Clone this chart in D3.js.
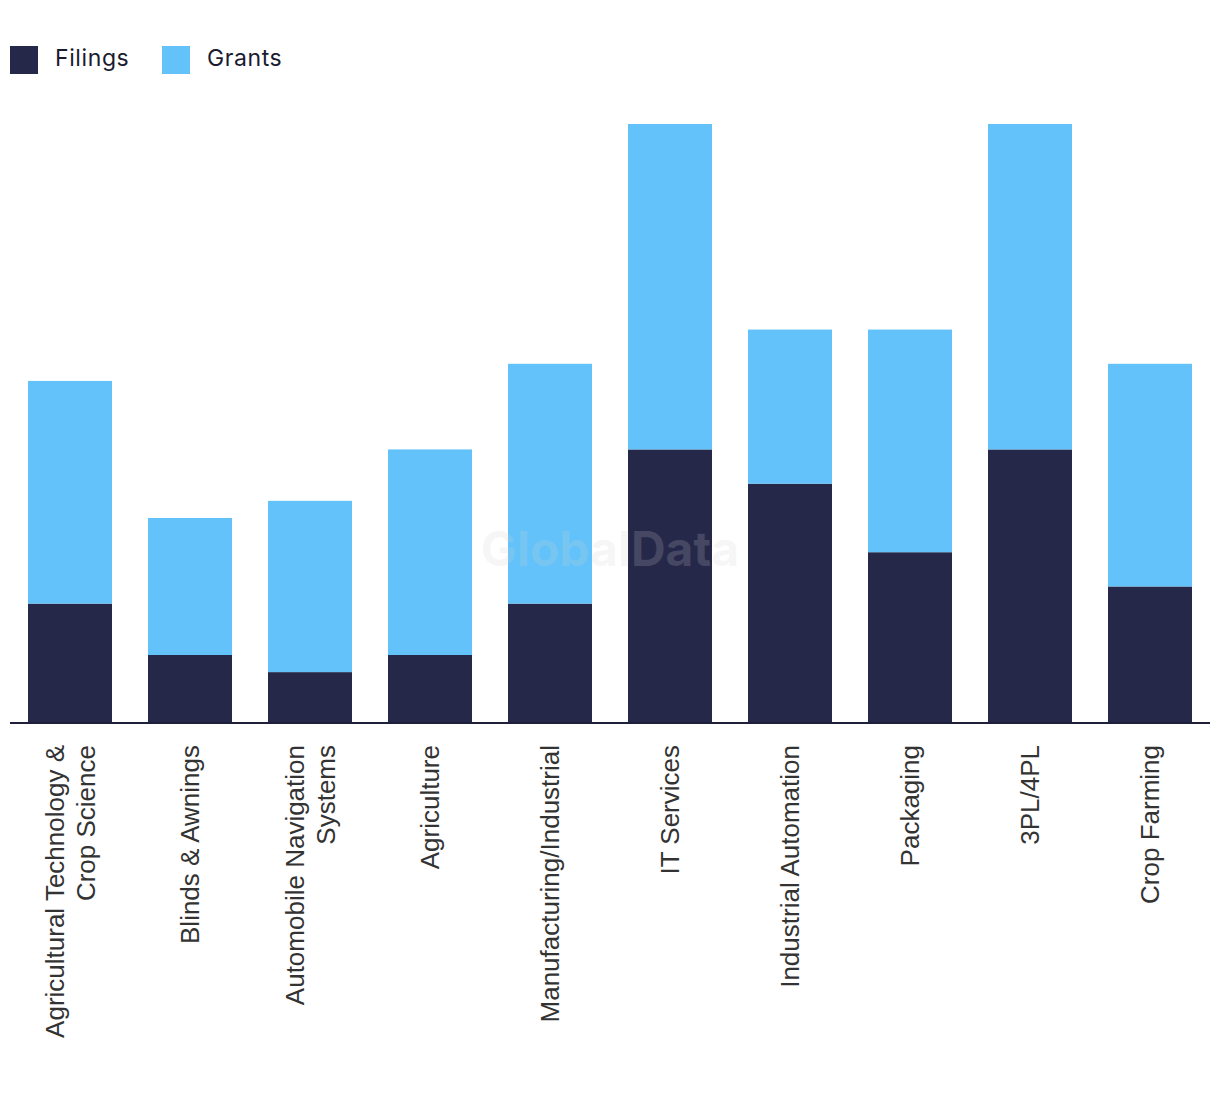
<!DOCTYPE html>
<html><head><meta charset="utf-8">
<script src="https://cdn.jsdelivr.net/npm/d3@7"></script>
<style>body{margin:0;background:#fff}svg{display:block}</style>
</head><body>
<script>
const categories = [
  ["Agricultural Technology &","Crop Science"],
  ["Blinds & Awnings"],
  ["Automobile Navigation","Systems"],
  ["Agriculture"],
  ["Manufacturing/Industrial"],
  ["IT Services"],
  ["Industrial Automation"],
  ["Packaging"],
  ["3PL/4PL"],
  ["Crop Farming"]
];
const filings = [7, 4, 3, 4, 7, 16, 14, 10, 16, 8];
const grants  = [13, 8, 10, 12, 14, 19, 9, 13, 19, 13];
const seriesNames = ["Filings", "Grants"];
const colors = ["#26284a", "#62c2f9"];

const W = 1220, H = 1094;
const svg = d3.select("body").append("svg").attr("width", W).attr("height", H);

const names = categories.map(c => c.join(" "));
const data = names.map((n, i) => ({name: n, Filings: filings[i], Grants: grants[i]}));
const stack = d3.stack().keys(seriesNames)(data);

const x = d3.scaleBand().domain(names).range([10, 1210]).paddingInner(0.3).paddingOuter(0.15);
const y = d3.scaleLinear().domain([0, 35]).range([723.5, 124]);

svg.append("g").selectAll("g").data(stack).join("g")
  .attr("fill", (d, i) => colors[i])
  .selectAll("rect").data(d => d).join("rect")
  .attr("x", d => x(d.data.name))
  .attr("width", x.bandwidth())
  .attr("y", d => y(d[1]))
  .attr("height", d => y(d[0]) - y(d[1]));

// watermark
svg.append("text").attr("x", 610).attr("y", 566).attr("text-anchor", "middle")
  .attr("font-family", "Inter, sans-serif").attr("font-weight", 700).attr("font-size", 48)
  .attr("fill", "rgba(210,210,210,0.2)").text("GlobalData");

// axis
const xAxis = svg.append("g").attr("transform", "translate(0,723)")
  .call(d3.axisBottom(x).tickSize(0).tickFormat(""));
xAxis.select(".domain").attr("stroke", "#1e1f38").attr("stroke-width", 2).attr("d", "M10,0H1210");

// labels
const lab = svg.append("g");
categories.forEach((lines, i) => {
  const cx = x(names[i]) + x.bandwidth() / 2;
  const n = lines.length;
  const t = lab.append("text")
    .attr("transform", `translate(${cx},745) rotate(-90)`)
    .attr("text-anchor", "end")
    .attr("font-family", "'Liberation Sans', Arial, sans-serif")
    .attr("font-size", 26)
    .attr("fill", "#333");
  lines.forEach((l, j) => {
    t.append("tspan").attr("x", 0)
      .attr("y", (j - (n - 1) / 2) * 31 + 9)
      .text(l);
  });
});

// legend
const leg = svg.append("g");
const legX = [10, 162];
seriesNames.forEach((s, i) => {
  leg.append("rect").attr("x", legX[i]).attr("y", 46).attr("width", 28).attr("height", 28).attr("fill", colors[i]);
  leg.append("text").attr("x", legX[i] + 45).attr("y", 66)
    .attr("font-family", "Inter, sans-serif").attr("font-size", 23).attr("letter-spacing", 0.6)
    .attr("fill", "#1a1b30").text(s);
});
</script>
</body></html>
